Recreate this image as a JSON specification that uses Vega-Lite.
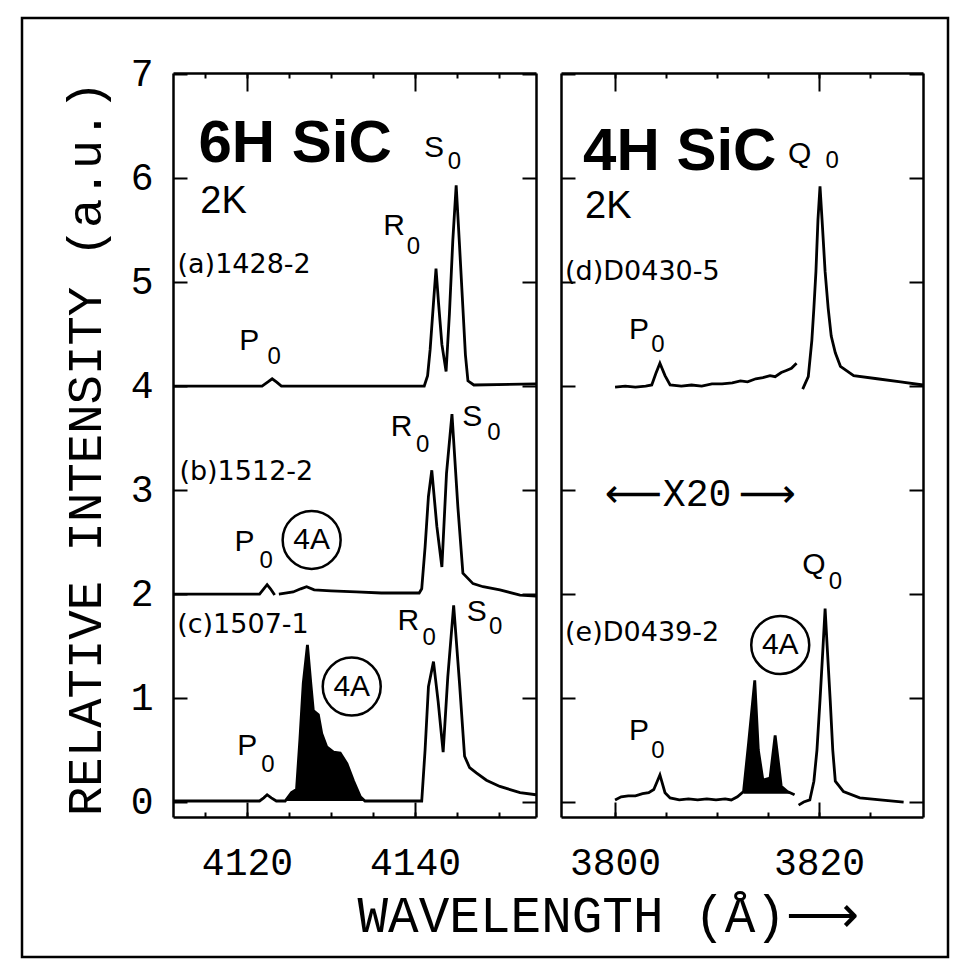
{
  "$schema": "https://vega.github.io/schema/vega-lite/v6.json",
  "width": 926,
  "height": 939,
  "autosize": "none",
  "padding": {"left": 22, "top": 18, "right": 21, "bottom": 20},
  "background": "#ffffff",
  "config": {
    "view": {"stroke": "#000000", "strokeWidth": 2.5},
    "axis": {
      "grid": false,
      "domainColor": "#000000",
      "domainWidth": 2.5,
      "tickColor": "#000000",
      "tickWidth": 2,
      "labelColor": "#000000",
      "titleColor": "#000000",
      "labelFont": "Liberation Mono",
      "titleFont": "Liberation Mono",
      "titleFontWeight": "normal",
      "labelFlush": false,
      "labelOverlap": false,
      "labelBound": false
    }
  },
  "datasets": {
    "spec6H": [
      {"s": "a", "x": 4111.2, "y": 4.0}, {"s": "a", "x": 4121.8, "y": 4.0}, {"s": "a", "x": 4122.5, "y": 4.04},
      {"s": "a", "x": 4123.0, "y": 4.07}, {"s": "a", "x": 4123.5, "y": 4.04}, {"s": "a", "x": 4124.1, "y": 4.0},
      {"s": "a", "x": 4141.1, "y": 4.0}, {"s": "a", "x": 4141.5, "y": 4.1}, {"s": "a", "x": 4141.8, "y": 4.35},
      {"s": "a", "x": 4142.2, "y": 4.8}, {"s": "a", "x": 4142.5, "y": 5.13}, {"s": "a", "x": 4142.8, "y": 4.8},
      {"s": "a", "x": 4143.2, "y": 4.4}, {"s": "a", "x": 4143.7, "y": 4.14}, {"s": "a", "x": 4144.1, "y": 4.7},
      {"s": "a", "x": 4144.5, "y": 5.4}, {"s": "a", "x": 4144.9, "y": 5.93}, {"s": "a", "x": 4145.3, "y": 5.35},
      {"s": "a", "x": 4145.7, "y": 4.75}, {"s": "a", "x": 4146.0, "y": 4.3}, {"s": "a", "x": 4146.3, "y": 4.05},
      {"s": "a", "x": 4147.0, "y": 4.01}, {"s": "a", "x": 4154.4, "y": 4.02},
      {"s": "b1", "x": 4111.2, "y": 2.0}, {"s": "b1", "x": 4121.5, "y": 2.0}, {"s": "b1", "x": 4122.0, "y": 2.05},
      {"s": "b1", "x": 4122.4, "y": 2.09}, {"s": "b1", "x": 4122.8, "y": 2.05}, {"s": "b1", "x": 4123.3, "y": 1.99},
      {"s": "b2", "x": 4123.8, "y": 2.0}, {"s": "b2", "x": 4125.5, "y": 2.02}, {"s": "b2", "x": 4126.4, "y": 2.05},
      {"s": "b2", "x": 4127.1, "y": 2.07}, {"s": "b2", "x": 4128.0, "y": 2.04}, {"s": "b2", "x": 4130.0, "y": 2.03},
      {"s": "b2", "x": 4133.0, "y": 2.02}, {"s": "b2", "x": 4136.0, "y": 2.01}, {"s": "b2", "x": 4140.5, "y": 2.01},
      {"s": "b2", "x": 4140.8, "y": 2.05}, {"s": "b2", "x": 4141.2, "y": 2.45}, {"s": "b2", "x": 4141.6, "y": 2.94},
      {"s": "b2", "x": 4142.0, "y": 3.19}, {"s": "b2", "x": 4142.6, "y": 2.65}, {"s": "b2", "x": 4143.2, "y": 2.26},
      {"s": "b2", "x": 4143.75, "y": 3.16}, {"s": "b2", "x": 4144.4, "y": 3.73}, {"s": "b2", "x": 4145.1, "y": 2.84},
      {"s": "b2", "x": 4145.7, "y": 2.2}, {"s": "b2", "x": 4146.9, "y": 2.1}, {"s": "b2", "x": 4148.1, "y": 2.07},
      {"s": "b2", "x": 4150.1, "y": 2.04}, {"s": "b2", "x": 4152.5, "y": 1.99}, {"s": "b2", "x": 4154.4, "y": 1.98},
      {"s": "c", "x": 4111.2, "y": 0.01}, {"s": "c", "x": 4121.5, "y": 0.01}, {"s": "c", "x": 4122.0, "y": 0.04},
      {"s": "c", "x": 4122.4, "y": 0.07}, {"s": "c", "x": 4122.9, "y": 0.04}, {"s": "c", "x": 4123.5, "y": 0.01},
      {"s": "c", "x": 4124.55, "y": 0.01}, {"s": "c", "x": 4125.3, "y": 0.09}, {"s": "c", "x": 4125.9, "y": 0.12},
      {"s": "c", "x": 4126.3, "y": 0.6}, {"s": "c", "x": 4126.7, "y": 1.14}, {"s": "c", "x": 4127.2, "y": 1.51},
      {"s": "c", "x": 4127.6, "y": 1.14}, {"s": "c", "x": 4127.9, "y": 0.88}, {"s": "c", "x": 4128.5, "y": 0.84},
      {"s": "c", "x": 4128.9, "y": 0.66}, {"s": "c", "x": 4129.5, "y": 0.53}, {"s": "c", "x": 4130.3, "y": 0.48},
      {"s": "c", "x": 4131.1, "y": 0.47}, {"s": "c", "x": 4131.9, "y": 0.37}, {"s": "c", "x": 4132.7, "y": 0.2},
      {"s": "c", "x": 4133.5, "y": 0.05}, {"s": "c", "x": 4134.05, "y": 0.01}, {"s": "c", "x": 4140.8, "y": 0.01},
      {"s": "c", "x": 4141.2, "y": 0.5}, {"s": "c", "x": 4141.6, "y": 1.11}, {"s": "c", "x": 4142.2, "y": 1.35},
      {"s": "c", "x": 4142.75, "y": 0.97}, {"s": "c", "x": 4143.35, "y": 0.48}, {"s": "c", "x": 4143.9, "y": 1.2},
      {"s": "c", "x": 4144.6, "y": 1.89}, {"s": "c", "x": 4145.3, "y": 1.14}, {"s": "c", "x": 4145.9, "y": 0.44},
      {"s": "c", "x": 4146.5, "y": 0.33}, {"s": "c", "x": 4147.3, "y": 0.28}, {"s": "c", "x": 4148.5, "y": 0.21},
      {"s": "c", "x": 4150.1, "y": 0.15}, {"s": "c", "x": 4152.5, "y": 0.09}, {"s": "c", "x": 4154.4, "y": 0.07}
    ],
    "spec4H": [
      {"s": "d1", "x": 3800.0, "y": 3.99}, {"s": "d1", "x": 3801.0, "y": 4.0}, {"s": "d1", "x": 3802.0, "y": 3.99},
      {"s": "d1", "x": 3803.0, "y": 4.0}, {"s": "d1", "x": 3803.6, "y": 4.01}, {"s": "d1", "x": 3804.0, "y": 4.12},
      {"s": "d1", "x": 3804.4, "y": 4.22}, {"s": "d1", "x": 3804.9, "y": 4.1}, {"s": "d1", "x": 3805.4, "y": 4.01},
      {"s": "d1", "x": 3806.5, "y": 4.0}, {"s": "d1", "x": 3807.5, "y": 4.01}, {"s": "d1", "x": 3808.5, "y": 4.0},
      {"s": "d1", "x": 3809.5, "y": 4.02}, {"s": "d1", "x": 3810.5, "y": 4.02}, {"s": "d1", "x": 3811.5, "y": 4.03},
      {"s": "d1", "x": 3812.3, "y": 4.05}, {"s": "d1", "x": 3813.0, "y": 4.04}, {"s": "d1", "x": 3813.8, "y": 4.07},
      {"s": "d1", "x": 3814.5, "y": 4.08}, {"s": "d1", "x": 3815.2, "y": 4.1}, {"s": "d1", "x": 3815.7, "y": 4.09},
      {"s": "d1", "x": 3816.3, "y": 4.13}, {"s": "d1", "x": 3816.8, "y": 4.15}, {"s": "d1", "x": 3817.3, "y": 4.17},
      {"s": "d1", "x": 3817.8, "y": 4.22},
      {"s": "d2", "x": 3818.4, "y": 3.97}, {"s": "d2", "x": 3818.95, "y": 4.09}, {"s": "d2", "x": 3819.3, "y": 4.44},
      {"s": "d2", "x": 3819.5, "y": 4.75}, {"s": "d2", "x": 3819.7, "y": 5.1}, {"s": "d2", "x": 3819.9, "y": 5.6},
      {"s": "d2", "x": 3820.1, "y": 5.92}, {"s": "d2", "x": 3820.3, "y": 5.6}, {"s": "d2", "x": 3820.6, "y": 5.1},
      {"s": "d2", "x": 3820.9, "y": 4.75}, {"s": "d2", "x": 3821.2, "y": 4.48}, {"s": "d2", "x": 3821.6, "y": 4.32},
      {"s": "d2", "x": 3822.1, "y": 4.19}, {"s": "d2", "x": 3823.4, "y": 4.1}, {"s": "d2", "x": 3825.7, "y": 4.07},
      {"s": "d2", "x": 3828.0, "y": 4.04}, {"s": "d2", "x": 3830.2, "y": 4.01},
      {"s": "e1", "x": 3800.0, "y": 0.02}, {"s": "e1", "x": 3800.6, "y": 0.05}, {"s": "e1", "x": 3801.3, "y": 0.06},
      {"s": "e1", "x": 3802.0, "y": 0.06}, {"s": "e1", "x": 3802.7, "y": 0.08}, {"s": "e1", "x": 3803.3, "y": 0.09},
      {"s": "e1", "x": 3803.8, "y": 0.12}, {"s": "e1", "x": 3804.1, "y": 0.19}, {"s": "e1", "x": 3804.4, "y": 0.26},
      {"s": "e1", "x": 3804.9, "y": 0.09}, {"s": "e1", "x": 3805.4, "y": 0.04}, {"s": "e1", "x": 3806.3, "y": 0.02},
      {"s": "e1", "x": 3807.2, "y": 0.03}, {"s": "e1", "x": 3808.1, "y": 0.02}, {"s": "e1", "x": 3809.0, "y": 0.03},
      {"s": "e1", "x": 3809.9, "y": 0.02}, {"s": "e1", "x": 3810.8, "y": 0.03}, {"s": "e1", "x": 3811.4, "y": 0.02},
      {"s": "e1", "x": 3812.0, "y": 0.05}, {"s": "e1", "x": 3812.6, "y": 0.1}, {"s": "e1", "x": 3813.1, "y": 0.57},
      {"s": "e1", "x": 3813.7, "y": 1.17}, {"s": "e1", "x": 3814.05, "y": 0.5}, {"s": "e1", "x": 3814.5, "y": 0.21},
      {"s": "e1", "x": 3815.2, "y": 0.23}, {"s": "e1", "x": 3815.7, "y": 0.64}, {"s": "e1", "x": 3816.0, "y": 0.4},
      {"s": "e1", "x": 3816.3, "y": 0.15}, {"s": "e1", "x": 3816.9, "y": 0.1}, {"s": "e1", "x": 3817.6, "y": 0.07},
      {"s": "e2", "x": 3818.0, "y": -0.03}, {"s": "e2", "x": 3818.5, "y": 0.0}, {"s": "e2", "x": 3819.1, "y": 0.02},
      {"s": "e2", "x": 3819.5, "y": 0.2}, {"s": "e2", "x": 3819.8, "y": 0.5}, {"s": "e2", "x": 3820.1, "y": 0.98},
      {"s": "e2", "x": 3820.4, "y": 1.5}, {"s": "e2", "x": 3820.6, "y": 1.86}, {"s": "e2", "x": 3820.8, "y": 1.5},
      {"s": "e2", "x": 3821.1, "y": 0.98}, {"s": "e2", "x": 3821.35, "y": 0.5}, {"s": "e2", "x": 3821.6, "y": 0.2},
      {"s": "e2", "x": 3822.4, "y": 0.1}, {"s": "e2", "x": 3824.0, "y": 0.04}, {"s": "e2", "x": 3826.0, "y": 0.02},
      {"s": "e2", "x": 3828.3, "y": 0.0}
    ],
    "notes6H": [
      {"k": "head", "t": "6H SiC", "x": 4114.22, "y": 6.15},
      {"k": "temp", "t": "2K", "x": 4114.45, "y": 5.66},
      {"k": "sample", "t": "(a)1428-2", "x": 4111.74, "y": 5.16},
      {"k": "sample", "t": "(b)1512-2", "x": 4111.96, "y": 3.17},
      {"k": "sample", "t": "(c)1507-1", "x": 4111.7, "y": 1.7},
      {"k": "letter", "t": "P", "x": 4120.27, "y": 4.43},
      {"k": "letter", "t": "R", "x": 4137.5, "y": 5.54},
      {"k": "letter", "t": "S", "x": 4142.25, "y": 6.29},
      {"k": "letter", "t": "P", "x": 4119.7, "y": 2.5},
      {"k": "letter", "t": "R", "x": 4138.4, "y": 3.61},
      {"k": "letter", "t": "S", "x": 4146.8, "y": 3.7},
      {"k": "letter", "t": "R", "x": 4139.2, "y": 1.74},
      {"k": "letter", "t": "S", "x": 4147.35, "y": 1.83},
      {"k": "letter", "t": "P", "x": 4120.04, "y": 0.54},
      {"k": "sub", "t": "0", "x": 4123.24, "y": 4.28},
      {"k": "sub", "t": "0", "x": 4139.8, "y": 5.34},
      {"k": "sub", "t": "0", "x": 4144.7, "y": 6.15},
      {"k": "sub", "t": "0", "x": 4122.3, "y": 2.32},
      {"k": "sub", "t": "0", "x": 4140.9, "y": 3.43},
      {"k": "sub", "t": "0", "x": 4149.4, "y": 3.55},
      {"k": "sub", "t": "0", "x": 4141.7, "y": 1.58},
      {"k": "sub", "t": "0", "x": 4149.6, "y": 1.68},
      {"k": "sub", "t": "0", "x": 4122.5, "y": 0.36},
      {"k": "ring", "t": "4A", "x": 4127.7, "y": 2.52},
      {"k": "ring", "t": "4A", "x": 4132.47, "y": 1.11}
    ],
    "notes4H": [
      {"k": "head", "t": "4H SiC", "x": 3796.86, "y": 6.08},
      {"k": "temp", "t": "2K", "x": 3797.06, "y": 5.62},
      {"k": "sample", "t": "(d)D0430-5", "x": 3795.1, "y": 5.1},
      {"k": "sample", "t": "(e)D0439-2", "x": 3795.1, "y": 1.63},
      {"k": "letter", "t": "P", "x": 3802.35, "y": 4.54},
      {"k": "letter", "t": "Q", "x": 3818.1, "y": 6.23},
      {"k": "letter", "t": "Q", "x": 3819.5, "y": 2.28},
      {"k": "letter", "t": "P", "x": 3802.35, "y": 0.68},
      {"k": "sub", "t": "0", "x": 3804.2, "y": 4.39},
      {"k": "sub", "t": "0", "x": 3821.3, "y": 6.16},
      {"k": "sub", "t": "0", "x": 3821.6, "y": 2.12},
      {"k": "sub", "t": "0", "x": 3804.2, "y": 0.49},
      {"k": "ring", "t": "4A", "x": 3816.2, "y": 1.51},
      {"k": "mag", "t": "X20", "x": 3808.04, "y": 2.95},
      {"k": "arrow", "t": "⟵", "x": 3801.8, "y": 2.95},
      {"k": "arrow", "t": "⟶", "x": 3814.95, "y": 2.95}
    ]
  },
  "layer": [
    {
      "data": {"name": "spec6H"},
      "mark": {"type": "line", "color": "#000000", "strokeWidth": 2.8, "clip": false},
      "encoding": {
        "x": {"field": "x", "type": "quantitative",
          "scale": {"domain": [4111.2, 4154.4], "range": [151, 514], "nice": false, "zero": false},
          "axis": {"orient": "top", "offset": -799, "values": [4115, 4120, 4125, 4130, 4135, 4140, 4145, 4150], "tickSize": 5, "labels": false, "title": null}},
        "y": {"field": "y", "type": "quantitative",
          "scale": {"domain": [-0.144, 7.01], "range": [799, 55], "nice": false, "zero": false},
          "axis": {"orient": "right", "offset": -775, "values": [0, 1, 2, 3, 4, 5, 6, 7], "tickSize": 14, "labels": false, "title": null}},
        "detail": {"field": "s", "type": "nominal"}
      }
    },
    {
      "data": {"name": "spec6H"},
      "transform": [{"filter": "datum.s == 'c' && datum.x >= 4124.5 && datum.x <= 4134.1"}],
      "mark": {"type": "area", "color": "#000000", "clip": false},
      "encoding": {
        "x": {"field": "x", "type": "quantitative",
          "scale": {"domain": [4111.2, 4154.4], "range": [151, 514], "nice": false, "zero": false},
          "axis": {"orient": "top", "offset": -799, "values": [4120, 4140], "tickSize": 15, "domain": false, "labels": false, "title": null}},
        "y": {"field": "y", "type": "quantitative",
          "scale": {"domain": [-0.144, 7.01], "range": [799, 55], "nice": false, "zero": false},
          "axis": {"orient": "left", "offset": -151, "values": [0, 1, 2, 3, 4, 5, 6, 7], "format": "d", "ticks": false, "domain": false,
            "labelPadding": 20, "labelFontSize": 38, "labelAlign": "right", "labelBaseline": "middle",
            "title": "RELATIVE INTENSITY (a.u.)", "titleFontSize": 49, "titleX": -73, "titleY": 430,
            "titleAngle": 270, "titleAlign": "center", "titleBaseline": "alphabetic"}},
        "y2": {"datum": 0.01}
      }
    },
    {
      "data": {"name": "notes6H"},
      "transform": [{"filter": "datum.k == 'head'"}],
      "mark": {"type": "text", "font": "Liberation Sans", "fontWeight": "bold", "fontSize": 60, "align": "left", "baseline": "alphabetic", "color": "#000000"},
      "encoding": {
        "x": {"field": "x", "type": "quantitative",
          "scale": {"domain": [4111.2, 4154.4], "range": [151, 514], "nice": false, "zero": false},
          "axis": {"orient": "bottom", "offset": -140, "values": [4120, 4140], "format": "d", "ticks": false, "domain": false,
            "labelFontSize": 38, "labelPadding": 57, "labelBaseline": "alphabetic",
            "title": "WAVELENGTH (Å)⟶", "titleFontSize": 51, "titleX": 335, "titleY": 114,
            "titleAlign": "left", "titleBaseline": "alphabetic"}},
        "y": {"field": "y", "type": "quantitative",
          "scale": {"domain": [-0.144, 7.01], "range": [799, 55], "nice": false, "zero": false},
          "axis": {"orient": "left", "offset": -514, "values": [0, 1, 2, 3, 4, 5, 6, 7], "tickSize": 14, "labels": false, "title": null}},
        "text": {"field": "t"}
      }
    },
    {
      "data": {"name": "notes6H"},
      "transform": [{"filter": "datum.k == 'temp'"}],
      "mark": {"type": "text", "font": "Liberation Sans", "fontSize": 38, "align": "left", "baseline": "alphabetic", "color": "#000000"},
      "encoding": {
        "x": {"field": "x", "type": "quantitative",
          "scale": {"domain": [4111.2, 4154.4], "range": [151, 514], "nice": false, "zero": false},
          "axis": {"orient": "bottom", "offset": -884, "values": [4115, 4120, 4125, 4130, 4135, 4140, 4145, 4150], "tickSize": 5, "labels": false, "title": null}},
        "y": {"field": "y", "type": "quantitative",
          "scale": {"domain": [-0.144, 7.01], "range": [799, 55], "nice": false, "zero": false}, "axis": null},
        "text": {"field": "t"}
      }
    },
    {
      "data": {"name": "notes6H"},
      "transform": [{"filter": "datum.k == 'sample'"}],
      "mark": {"type": "text", "font": "DejaVu Sans", "fontSize": 27, "align": "left", "baseline": "middle", "color": "#000000"},
      "encoding": {
        "x": {"field": "x", "type": "quantitative",
          "scale": {"domain": [4111.2, 4154.4], "range": [151, 514], "nice": false, "zero": false},
          "axis": {"orient": "bottom", "offset": -884, "values": [4120, 4140], "tickSize": 18, "domain": false, "labels": false, "title": null}},
        "y": {"field": "y", "type": "quantitative",
          "scale": {"domain": [-0.144, 7.01], "range": [799, 55], "nice": false, "zero": false}, "axis": null},
        "text": {"field": "t"}
      }
    },
    {
      "data": {"name": "notes6H"},
      "transform": [{"filter": "datum.k == 'letter'"}],
      "mark": {"type": "text", "font": "Liberation Sans", "fontSize": 30, "align": "center", "baseline": "middle", "color": "#000000"},
      "encoding": {
        "x": {"field": "x", "type": "quantitative",
          "scale": {"domain": [4111.2, 4154.4], "range": [151, 514], "nice": false, "zero": false}, "axis": null},
        "y": {"field": "y", "type": "quantitative",
          "scale": {"domain": [-0.144, 7.01], "range": [799, 55], "nice": false, "zero": false}, "axis": null},
        "text": {"field": "t"}
      }
    },
    {
      "data": {"name": "notes6H"},
      "transform": [{"filter": "datum.k == 'sub'"}],
      "mark": {"type": "text", "font": "Liberation Sans", "fontSize": 24, "align": "center", "baseline": "middle", "color": "#000000"},
      "encoding": {
        "x": {"field": "x", "type": "quantitative",
          "scale": {"domain": [4111.2, 4154.4], "range": [151, 514], "nice": false, "zero": false}, "axis": null},
        "y": {"field": "y", "type": "quantitative",
          "scale": {"domain": [-0.144, 7.01], "range": [799, 55], "nice": false, "zero": false}, "axis": null},
        "text": {"field": "t"}
      }
    },
    {
      "data": {"name": "notes6H"},
      "transform": [{"filter": "datum.k == 'ring'"}],
      "mark": {"type": "point", "shape": "circle", "filled": false, "size": 3364, "stroke": "#000000", "strokeWidth": 2.5, "opacity": 1},
      "encoding": {
        "x": {"field": "x", "type": "quantitative",
          "scale": {"domain": [4111.2, 4154.4], "range": [151, 514], "nice": false, "zero": false}, "axis": null},
        "y": {"field": "y", "type": "quantitative",
          "scale": {"domain": [-0.144, 7.01], "range": [799, 55], "nice": false, "zero": false}, "axis": null}
      }
    },
    {
      "data": {"name": "notes6H"},
      "transform": [{"filter": "datum.k == 'ring'"}],
      "mark": {"type": "text", "font": "Liberation Sans", "fontSize": 30, "align": "center", "baseline": "middle", "color": "#000000"},
      "encoding": {
        "x": {"field": "x", "type": "quantitative",
          "scale": {"domain": [4111.2, 4154.4], "range": [151, 514], "nice": false, "zero": false}, "axis": null},
        "y": {"field": "y", "type": "quantitative",
          "scale": {"domain": [-0.144, 7.01], "range": [799, 55], "nice": false, "zero": false}, "axis": null},
        "text": {"field": "t"}
      }
    },
    {
      "data": {"name": "spec4H"},
      "mark": {"type": "line", "color": "#000000", "strokeWidth": 2.8, "clip": false},
      "encoding": {
        "x": {"field": "x", "type": "quantitative",
          "scale": {"domain": [3794.7, 3830.2], "range": [539, 901], "nice": false, "zero": false},
          "axis": {"orient": "top", "offset": -799, "values": [3800, 3805, 3810, 3815, 3820, 3825], "tickSize": 5, "labels": false, "title": null}},
        "y": {"field": "y", "type": "quantitative",
          "scale": {"domain": [-0.144, 7.01], "range": [799, 55], "nice": false, "zero": false},
          "axis": {"orient": "right", "offset": -387, "values": [0, 1, 2, 3, 4, 5, 6, 7], "tickSize": 14, "labels": false, "title": null}},
        "detail": {"field": "s", "type": "nominal"}
      }
    },
    {
      "data": {"name": "spec4H"},
      "transform": [{"filter": "datum.s == 'e1' && datum.x >= 3812.5 && datum.x <= 3817.7"}],
      "mark": {"type": "area", "color": "#000000", "clip": false},
      "encoding": {
        "x": {"field": "x", "type": "quantitative",
          "scale": {"domain": [3794.7, 3830.2], "range": [539, 901], "nice": false, "zero": false},
          "axis": {"orient": "top", "offset": -799, "values": [3800, 3820], "tickSize": 15, "domain": false, "labels": false, "title": null}},
        "y": {"field": "y", "type": "quantitative",
          "scale": {"domain": [-0.144, 7.01], "range": [799, 55], "nice": false, "zero": false},
          "axis": {"orient": "left", "offset": -901, "values": [0, 1, 2, 3, 4, 5, 6, 7], "tickSize": 14, "labels": false, "title": null}},
        "y2": {"datum": 0.08}
      }
    },
    {
      "data": {"name": "notes4H"},
      "transform": [{"filter": "datum.k == 'head'"}],
      "mark": {"type": "text", "font": "Liberation Sans", "fontWeight": "bold", "fontSize": 60, "align": "left", "baseline": "alphabetic", "color": "#000000"},
      "encoding": {
        "x": {"field": "x", "type": "quantitative",
          "scale": {"domain": [3794.7, 3830.2], "range": [539, 901], "nice": false, "zero": false},
          "axis": {"orient": "bottom", "offset": -140, "values": [3800, 3820], "format": "d", "ticks": false, "domain": false,
            "labelFontSize": 38, "labelPadding": 57, "labelBaseline": "alphabetic", "title": null}},
        "y": {"field": "y", "type": "quantitative",
          "scale": {"domain": [-0.144, 7.01], "range": [799, 55], "nice": false, "zero": false}, "axis": null},
        "text": {"field": "t"}
      }
    },
    {
      "data": {"name": "notes4H"},
      "transform": [{"filter": "datum.k == 'temp'"}],
      "mark": {"type": "text", "font": "Liberation Sans", "fontSize": 38, "align": "left", "baseline": "alphabetic", "color": "#000000"},
      "encoding": {
        "x": {"field": "x", "type": "quantitative",
          "scale": {"domain": [3794.7, 3830.2], "range": [539, 901], "nice": false, "zero": false},
          "axis": {"orient": "bottom", "offset": -884, "values": [3800, 3805, 3810, 3815, 3820, 3825], "tickSize": 5, "labels": false, "title": null}},
        "y": {"field": "y", "type": "quantitative",
          "scale": {"domain": [-0.144, 7.01], "range": [799, 55], "nice": false, "zero": false}, "axis": null},
        "text": {"field": "t"}
      }
    },
    {
      "data": {"name": "notes4H"},
      "transform": [{"filter": "datum.k == 'sample'"}],
      "mark": {"type": "text", "font": "DejaVu Sans", "fontSize": 27, "align": "left", "baseline": "middle", "color": "#000000"},
      "encoding": {
        "x": {"field": "x", "type": "quantitative",
          "scale": {"domain": [3794.7, 3830.2], "range": [539, 901], "nice": false, "zero": false},
          "axis": {"orient": "bottom", "offset": -884, "values": [3800, 3820], "tickSize": 18, "domain": false, "labels": false, "title": null}},
        "y": {"field": "y", "type": "quantitative",
          "scale": {"domain": [-0.144, 7.01], "range": [799, 55], "nice": false, "zero": false}, "axis": null},
        "text": {"field": "t"}
      }
    },
    {
      "data": {"name": "notes4H"},
      "transform": [{"filter": "datum.k == 'letter'"}],
      "mark": {"type": "text", "font": "Liberation Sans", "fontSize": 30, "align": "center", "baseline": "middle", "color": "#000000"},
      "encoding": {
        "x": {"field": "x", "type": "quantitative",
          "scale": {"domain": [3794.7, 3830.2], "range": [539, 901], "nice": false, "zero": false}, "axis": null},
        "y": {"field": "y", "type": "quantitative",
          "scale": {"domain": [-0.144, 7.01], "range": [799, 55], "nice": false, "zero": false}, "axis": null},
        "text": {"field": "t"}
      }
    },
    {
      "data": {"name": "notes4H"},
      "transform": [{"filter": "datum.k == 'sub'"}],
      "mark": {"type": "text", "font": "Liberation Sans", "fontSize": 24, "align": "center", "baseline": "middle", "color": "#000000"},
      "encoding": {
        "x": {"field": "x", "type": "quantitative",
          "scale": {"domain": [3794.7, 3830.2], "range": [539, 901], "nice": false, "zero": false}, "axis": null},
        "y": {"field": "y", "type": "quantitative",
          "scale": {"domain": [-0.144, 7.01], "range": [799, 55], "nice": false, "zero": false}, "axis": null},
        "text": {"field": "t"}
      }
    },
    {
      "data": {"name": "notes4H"},
      "transform": [{"filter": "datum.k == 'ring'"}],
      "mark": {"type": "point", "shape": "circle", "filled": false, "size": 3364, "stroke": "#000000", "strokeWidth": 2.5, "opacity": 1},
      "encoding": {
        "x": {"field": "x", "type": "quantitative",
          "scale": {"domain": [3794.7, 3830.2], "range": [539, 901], "nice": false, "zero": false}, "axis": null},
        "y": {"field": "y", "type": "quantitative",
          "scale": {"domain": [-0.144, 7.01], "range": [799, 55], "nice": false, "zero": false}, "axis": null}
      }
    },
    {
      "data": {"name": "notes4H"},
      "transform": [{"filter": "datum.k == 'ring'"}],
      "mark": {"type": "text", "font": "Liberation Sans", "fontSize": 30, "align": "center", "baseline": "middle", "color": "#000000"},
      "encoding": {
        "x": {"field": "x", "type": "quantitative",
          "scale": {"domain": [3794.7, 3830.2], "range": [539, 901], "nice": false, "zero": false}, "axis": null},
        "y": {"field": "y", "type": "quantitative",
          "scale": {"domain": [-0.144, 7.01], "range": [799, 55], "nice": false, "zero": false}, "axis": null},
        "text": {"field": "t"}
      }
    },
    {
      "data": {"name": "notes4H"},
      "transform": [{"filter": "datum.k == 'mag'"}],
      "mark": {"type": "text", "font": "Liberation Mono", "fontSize": 38, "align": "center", "baseline": "middle", "color": "#000000"},
      "encoding": {
        "x": {"field": "x", "type": "quantitative",
          "scale": {"domain": [3794.7, 3830.2], "range": [539, 901], "nice": false, "zero": false}, "axis": null},
        "y": {"field": "y", "type": "quantitative",
          "scale": {"domain": [-0.144, 7.01], "range": [799, 55], "nice": false, "zero": false}, "axis": null},
        "text": {"field": "t"}
      }
    },
    {
      "data": {"name": "notes4H"},
      "transform": [{"filter": "datum.k == 'arrow'"}],
      "mark": {"type": "text", "font": "DejaVu Sans", "fontSize": 40, "align": "center", "baseline": "middle", "color": "#000000"},
      "encoding": {
        "x": {"field": "x", "type": "quantitative",
          "scale": {"domain": [3794.7, 3830.2], "range": [539, 901], "nice": false, "zero": false}, "axis": null},
        "y": {"field": "y", "type": "quantitative",
          "scale": {"domain": [-0.144, 7.01], "range": [799, 55], "nice": false, "zero": false}, "axis": null},
        "text": {"field": "t"}
      }
    }
  ],
  "resolve": {
    "scale": {"x": "independent", "y": "independent"},
    "axis": {"x": "independent", "y": "independent"}
  }
}
